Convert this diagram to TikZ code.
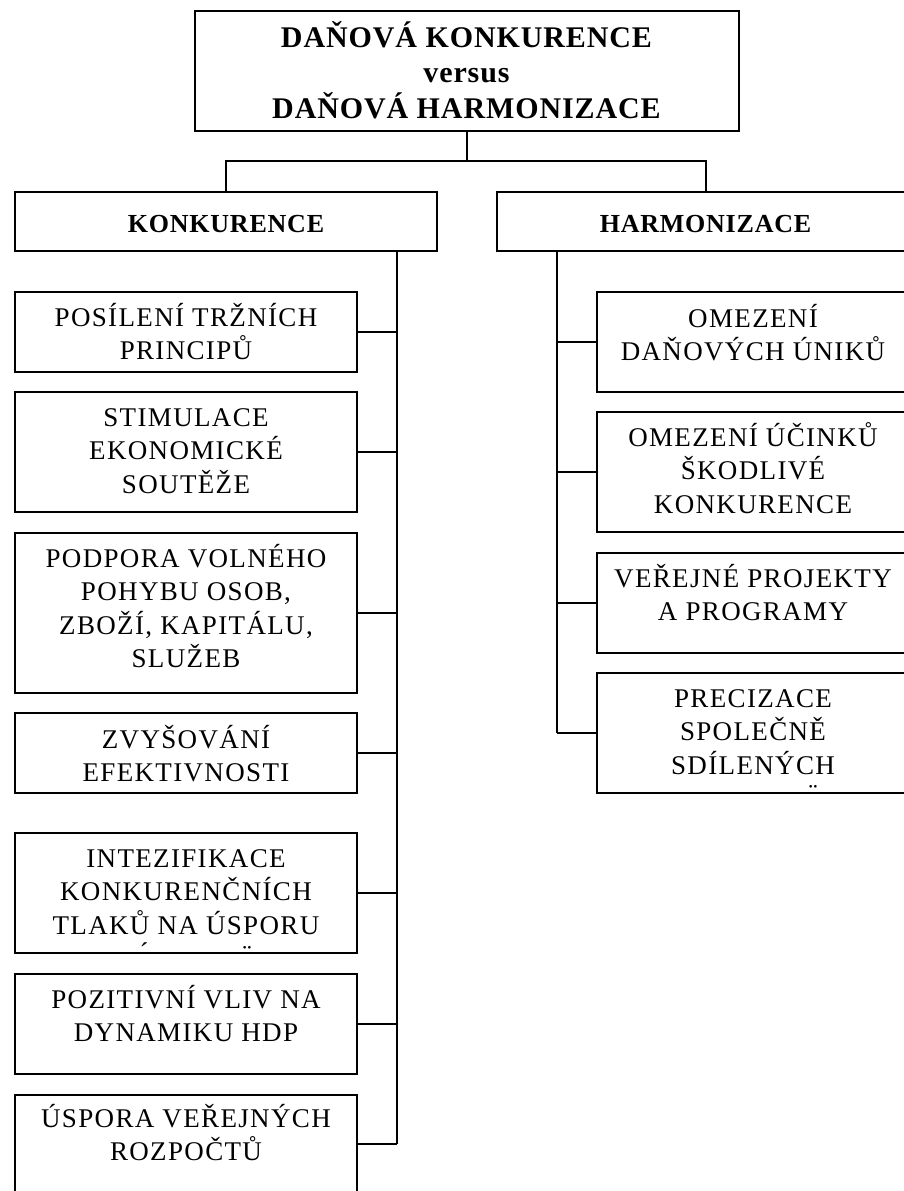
\documentclass[tikz,border=0pt]{standalone}
\usepackage{fontspec}
\setmainfont{Liberation Serif}
\newfontfamily\boxfnt[LetterSpace=5]{Liberation Serif}
\newfontfamily\ttlfnt[LetterSpace=3]{Liberation Serif}
\newcommand\mylines[2][340pt]{\parbox[t]{#1}{\centering #2}}
\begin{document}
\begin{tikzpicture}[x=1pt,y=-1pt,
  bx/.style={draw=black, line width=1.2pt, inner sep=0pt, outer sep=0pt, fill=white},
  lbl/.style={anchor=base, inner sep=0pt, font=\boxfnt\fontsize{27}{33.5}\selectfont},
  ttl/.style={anchor=base, inner sep=0pt, font=\ttlfnt\bfseries\fontsize{30}{35.5}\selectfont},
  sub/.style={anchor=base, inner sep=0pt, font=\ttlfnt\bfseries\fontsize{26}{30}\selectfont},
  acc/.style={anchor=base, inner sep=0pt, font=\boxfnt\fontsize{27}{33.5}\selectfont},
  conn/.style={draw=black, line width=1.2pt}]
\useasboundingbox (0,0) rectangle (904,1191);
% top
\node[bx, minimum width=544pt, minimum height=120pt] (top) at (467,71) {};
\node[ttl] (ttop) at (466.5,47) {\mylines[540pt]{DAŇOVÁ KONKURENCE\\versus\\DAŇOVÁ HARMONIZACE}};
% second level
\node[bx, minimum width=422pt, minimum height=59pt] (kon) at (226,221.5) {};
\node[sub] (tkon) at (226,232) {KONKURENCE};
\node[bx, minimum width=418pt, minimum height=59pt] (har) at (706,221.5) {};
\node[sub] (thar) at (705.5,232) {HARMONIZACE};
% left boxes
\node[bx, minimum width=342pt, minimum height=80pt] (b1) at (186,332) {};
\node[lbl] (tb1) at (186,326) {\mylines{POSÍLENÍ TRŽNÍCH\\PRINCIPŮ}};
\node[bx, minimum width=342pt, minimum height=120pt] (b2) at (186,452) {};
\node[lbl] (tb2) at (186,426) {\mylines{STIMULACE\\EKONOMICKÉ\\SOUTĚŽE}};
\node[bx, minimum width=342pt, minimum height=160pt] (b3) at (186,613) {};
\node[lbl] (tb3) at (186,567) {\mylines{PODPORA VOLNÉHO\\POHYBU OSOB,\\ZBOŽÍ, KAPITÁLU,\\SLUŽEB}};
\node[bx, minimum width=342pt, minimum height=80pt] (b4) at (186,753) {};
\node[lbl] (tb4) at (186,748) {\mylines{ZVYŠOVÁNÍ\\EFEKTIVNOSTI}};
\node[bx, minimum width=342pt, minimum height=120pt] (b5) at (186,893) {};
\node[lbl] (tb5) at (186,867) {\mylines{INTEZIFIKACE\\KONKURENČNÍCH\\TLAKŮ NA ÚSPORU}};
\node[acc] (ac1) at (144,947) {\raisebox{-14pt}[3pt][0pt]{´}};
\node[acc] (ac2) at (247,947) {\raisebox{-16pt}[3pt][0pt]{¨}};
\node[bx, minimum width=342pt, minimum height=100pt] (b6) at (186,1024) {};
\node[lbl] (tb6) at (186,1008) {\mylines{POZITIVNÍ VLIV NA\\DYNAMIKU HDP}};
\node[bx, minimum width=342pt, minimum height=98pt] (b7) at (186,1144) {};
\node[lbl] (tb7) at (186,1127) {\mylines{ÚSPORA VEŘEJNÝCH\\ROZPOČTŮ}};
% right boxes
\node[bx, minimum width=317pt, minimum height=100pt] (r1) at (755.5,342) {};
\node[lbl] (tr1) at (753,327) {\mylines{OMEZENÍ\\DAŇOVÝCH ÚNIKŮ}};
\node[bx, minimum width=317pt, minimum height=120pt] (r2) at (755.5,472) {};
\node[lbl] (tr2) at (753,446) {\mylines{OMEZENÍ ÚČINKŮ\\ŠKODLIVÉ\\KONKURENCE}};
\node[bx, minimum width=317pt, minimum height=100pt] (r3) at (755.5,603) {};
\node[lbl] (tr3) at (753,587) {\mylines{VEŘEJNÉ PROJEKTY\\A PROGRAMY}};
\node[bx, minimum width=317pt, minimum height=120pt] (r4) at (755.5,733) {};
\node[lbl] (tr4) at (753,707) {\mylines{PRECIZACE\\SPOLEČNĚ\\SDÍLENÝCH}};
\node[acc] (ac3) at (813,786) {\raisebox{-16pt}[3pt][0pt]{¨}};
% connectors
\coordinate (split) at (467,161);
\draw[conn] (top.south) -- (split);
\draw[conn] (kon.north) |- (split) -| (har.north);
\coordinate (kt) at (397,251);
\coordinate (rt) at (557,251);
\draw[conn] (kt) -- (kt |- b7.east);
\draw[conn] (rt) -- (rt |- r4.west);
\foreach \b in {b1,b2,b3,b4,b5,b6,b7} \draw[conn] (\b.east) -- (\b.east -| kt);
\foreach \r in {r1,r2,r3,r4} \draw[conn] (\r.west) -- (\r.west -| rt);
\end{tikzpicture}
\end{document}
